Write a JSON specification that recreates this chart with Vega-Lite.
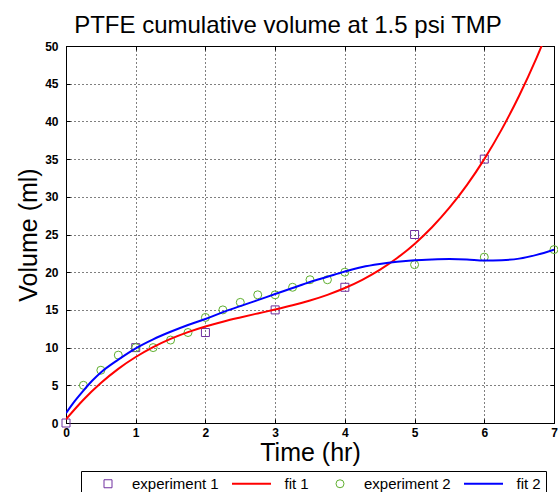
{
  "$schema": "https://vega.github.io/schema/vega-lite/v6.json",
  "width": 488,
  "height": 377,
  "autosize": {"type": "none"},
  "padding": {"left": 66, "top": 46, "right": 4, "bottom": 69},
  "background": "white",
  "config": {
    "view": {"stroke": "black", "strokeWidth": 1},
    "legend": {
      "orient": "none", "legendX": 15, "legendY": 425, "direction": "horizontal", "columns": 4,
      "strokeColor": "black", "fillColor": "white", "padding": 5,
      "labelFont": "Liberation Sans", "labelFontSize": 15, "labelColor": "black", "labelOffset": 3,
      "columnPadding": 8.5, "symbolStrokeWidth": 1.5, "symbolSize": 64
    }
  },
  "title": {
    "text": "PTFE cumulative volume at 1.5 psi TMP",
    "font": "Liberation Sans", "fontSize": 24, "fontWeight": "normal", "color": "black",
    "baseline": "alphabetic", "offset": 13, "dy": 30, "dx": -22, "anchor": "middle", "frame": "group"
  },
  "data": {
    "values": [
      {"kind": "exp", "series": "experiment 1", "t": 0, "v": 0},
      {"kind": "exp", "series": "experiment 1", "t": 1, "v": 10},
      {"kind": "exp", "series": "experiment 1", "t": 2, "v": 12},
      {"kind": "exp", "series": "experiment 1", "t": 3, "v": 15},
      {"kind": "exp", "series": "experiment 1", "t": 4, "v": 18},
      {"kind": "exp", "series": "experiment 1", "t": 5, "v": 25},
      {"kind": "exp", "series": "experiment 1", "t": 6, "v": 35},
      {"kind": "exp", "series": "experiment 2", "t": 0.25, "v": 5},
      {"kind": "exp", "series": "experiment 2", "t": 0.5, "v": 7},
      {"kind": "exp", "series": "experiment 2", "t": 0.75, "v": 9},
      {"kind": "exp", "series": "experiment 2", "t": 1, "v": 10},
      {"kind": "exp", "series": "experiment 2", "t": 1.25, "v": 10},
      {"kind": "exp", "series": "experiment 2", "t": 1.5, "v": 11},
      {"kind": "exp", "series": "experiment 2", "t": 1.75, "v": 12},
      {"kind": "exp", "series": "experiment 2", "t": 2, "v": 14},
      {"kind": "exp", "series": "experiment 2", "t": 2.25, "v": 15},
      {"kind": "exp", "series": "experiment 2", "t": 2.5, "v": 16},
      {"kind": "exp", "series": "experiment 2", "t": 2.75, "v": 17},
      {"kind": "exp", "series": "experiment 2", "t": 3, "v": 17},
      {"kind": "exp", "series": "experiment 2", "t": 3.25, "v": 18},
      {"kind": "exp", "series": "experiment 2", "t": 3.5, "v": 19},
      {"kind": "exp", "series": "experiment 2", "t": 3.75, "v": 19},
      {"kind": "exp", "series": "experiment 2", "t": 4, "v": 20},
      {"kind": "exp", "series": "experiment 2", "t": 5, "v": 21},
      {"kind": "exp", "series": "experiment 2", "t": 6, "v": 22},
      {"kind": "exp", "series": "experiment 2", "t": 7, "v": 23},
      {"kind": "fit", "series": "fit 1", "t": 0, "v": 0.5},
      {"kind": "fit", "series": "fit 1", "t": 0.25, "v": 3.09},
      {"kind": "fit", "series": "fit 1", "t": 0.5, "v": 5.3},
      {"kind": "fit", "series": "fit 1", "t": 0.75, "v": 7.18},
      {"kind": "fit", "series": "fit 1", "t": 1, "v": 8.75},
      {"kind": "fit", "series": "fit 1", "t": 1.25, "v": 10.06},
      {"kind": "fit", "series": "fit 1", "t": 1.5, "v": 11.15},
      {"kind": "fit", "series": "fit 1", "t": 1.75, "v": 12.05},
      {"kind": "fit", "series": "fit 1", "t": 2, "v": 12.8},
      {"kind": "fit", "series": "fit 1", "t": 2.25, "v": 13.44},
      {"kind": "fit", "series": "fit 1", "t": 2.5, "v": 14.0},
      {"kind": "fit", "series": "fit 1", "t": 2.75, "v": 14.53},
      {"kind": "fit", "series": "fit 1", "t": 3, "v": 15.05},
      {"kind": "fit", "series": "fit 1", "t": 3.25, "v": 15.61},
      {"kind": "fit", "series": "fit 1", "t": 3.5, "v": 16.25},
      {"kind": "fit", "series": "fit 1", "t": 3.75, "v": 17.0},
      {"kind": "fit", "series": "fit 1", "t": 4, "v": 17.9},
      {"kind": "fit", "series": "fit 1", "t": 4.25, "v": 18.99},
      {"kind": "fit", "series": "fit 1", "t": 4.5, "v": 20.3},
      {"kind": "fit", "series": "fit 1", "t": 4.75, "v": 21.88},
      {"kind": "fit", "series": "fit 1", "t": 5, "v": 23.75},
      {"kind": "fit", "series": "fit 1", "t": 5.25, "v": 25.96},
      {"kind": "fit", "series": "fit 1", "t": 5.5, "v": 28.55},
      {"kind": "fit", "series": "fit 1", "t": 5.75, "v": 31.55},
      {"kind": "fit", "series": "fit 1", "t": 6, "v": 35.0},
      {"kind": "fit", "series": "fit 1", "t": 6.25, "v": 38.94},
      {"kind": "fit", "series": "fit 1", "t": 6.5, "v": 43.4},
      {"kind": "fit", "series": "fit 1", "t": 6.75, "v": 48.43},
      {"kind": "fit", "series": "fit 1", "t": 7, "v": 54.05},
      {"kind": "fit", "series": "fit 2", "t": 0, "v": 1.3},
      {"kind": "fit", "series": "fit 2", "t": 0.125, "v": 2.9},
      {"kind": "fit", "series": "fit 2", "t": 0.25, "v": 4.3},
      {"kind": "fit", "series": "fit 2", "t": 0.375, "v": 5.6},
      {"kind": "fit", "series": "fit 2", "t": 0.5, "v": 6.7},
      {"kind": "fit", "series": "fit 2", "t": 0.75, "v": 8.4},
      {"kind": "fit", "series": "fit 2", "t": 1, "v": 9.9},
      {"kind": "fit", "series": "fit 2", "t": 1.25, "v": 11.1},
      {"kind": "fit", "series": "fit 2", "t": 1.5, "v": 12.1},
      {"kind": "fit", "series": "fit 2", "t": 1.75, "v": 13.0},
      {"kind": "fit", "series": "fit 2", "t": 2, "v": 13.8},
      {"kind": "fit", "series": "fit 2", "t": 2.25, "v": 14.7},
      {"kind": "fit", "series": "fit 2", "t": 2.5, "v": 15.5},
      {"kind": "fit", "series": "fit 2", "t": 2.75, "v": 16.3},
      {"kind": "fit", "series": "fit 2", "t": 3, "v": 17.1},
      {"kind": "fit", "series": "fit 2", "t": 3.25, "v": 17.9},
      {"kind": "fit", "series": "fit 2", "t": 3.5, "v": 18.7},
      {"kind": "fit", "series": "fit 2", "t": 3.75, "v": 19.4},
      {"kind": "fit", "series": "fit 2", "t": 4, "v": 20.1},
      {"kind": "fit", "series": "fit 2", "t": 4.25, "v": 20.7},
      {"kind": "fit", "series": "fit 2", "t": 4.5, "v": 21.1},
      {"kind": "fit", "series": "fit 2", "t": 4.75, "v": 21.4},
      {"kind": "fit", "series": "fit 2", "t": 5, "v": 21.6},
      {"kind": "fit", "series": "fit 2", "t": 5.25, "v": 21.7},
      {"kind": "fit", "series": "fit 2", "t": 5.5, "v": 21.75},
      {"kind": "fit", "series": "fit 2", "t": 5.75, "v": 21.7},
      {"kind": "fit", "series": "fit 2", "t": 6, "v": 21.55},
      {"kind": "fit", "series": "fit 2", "t": 6.25, "v": 21.6},
      {"kind": "fit", "series": "fit 2", "t": 6.5, "v": 21.8},
      {"kind": "fit", "series": "fit 2", "t": 6.75, "v": 22.3},
      {"kind": "fit", "series": "fit 2", "t": 7, "v": 23.0}
    ]
  },
  "layer": [
    {
      "transform": [{"filter": "datum.kind == 'exp'"}],
      "mark": {"type": "point", "filled": false, "strokeWidth": 1, "opacity": 1, "size": 64},
      "encoding": {
        "x": {"field": "t", "type": "quantitative", "scale": {"domain": [0, 7], "nice": false},
          "axis": {"orient": "top", "values": [0, 1, 2, 3, 4, 5, 6, 7], "labels": false, "grid": false, "title": null,
            "tickSize": -4, "tickColor": "black", "domainColor": "black"}},
        "y": {"field": "v", "type": "quantitative", "scale": {"domain": [0, 50], "nice": false},
          "axis": {"orient": "right", "values": [0, 5, 10, 15, 20, 25, 30, 35, 40, 45, 50], "labels": false, "grid": false, "title": null,
            "tickSize": -4, "tickColor": "black", "domainColor": "black"}},
        "color": {"field": "series", "type": "nominal",
          "scale": {"domain": ["experiment 1", "fit 1", "experiment 2", "fit 2"], "range": ["#7030A0", "#FF0000", "#5FAF2F", "#0000FF"]},
          "legend": {"title": null, "encode": {
            "symbols": {"update": {
              "x": {"value": 22},
              "size": {"signal": "indexof(['fit 1','fit 2'], datum.value) >= 0 ? 1521 : 64"},
              "strokeWidth": {"signal": "indexof(['fit 1','fit 2'], datum.value) >= 0 ? 2 : 1"}}},
            "labels": {"update": {
              "x": {"signal": "indexof(['fit 1','fit 2'], datum.value) >= 0 ? 55 : 46"}}}}}},
        "shape": {"field": "series", "type": "nominal",
          "scale": {"domain": ["experiment 1", "fit 1", "experiment 2", "fit 2"], "range": ["square", "stroke", "circle", "stroke"]},
          "legend": {"title": null, "encode": {
            "symbols": {"update": {
              "x": {"value": 22},
              "size": {"signal": "indexof(['fit 1','fit 2'], datum.value) >= 0 ? 1521 : 64"},
              "strokeWidth": {"signal": "indexof(['fit 1','fit 2'], datum.value) >= 0 ? 2 : 1"}}},
            "labels": {"update": {
              "x": {"signal": "indexof(['fit 1','fit 2'], datum.value) >= 0 ? 55 : 46"}}}}}}
      }
    },
    {
      "transform": [{"filter": "datum.kind == 'fit'"}],
      "mark": {"type": "line", "strokeWidth": 2, "clip": true, "interpolate": "monotone"},
      "encoding": {
        "x": {"field": "t", "type": "quantitative", "scale": {"domain": [0, 7], "nice": false},
          "axis": {"orient": "bottom", "values": [0, 1, 2, 3, 4, 5, 6, 7], "format": "d",
            "grid": true, "gridColor": "black", "gridDash": [1, 3], "gridOpacity": 1,
            "domainColor": "black", "tickColor": "black", "tickSize": -4, "labelFlush": false, "labelOverlap": false,
            "labelFont": "Liberation Sans", "labelFontSize": 12, "labelFontWeight": "bold", "labelColor": "black", "labelPadding": 8,
            "title": "Time (hr)", "titleFont": "Liberation Sans", "titleFontSize": 25, "titleFontWeight": "normal", "titleColor": "black",
            "titleBaseline": "alphabetic", "titleY": 37, "titleX": 244}},
        "y": {"field": "v", "type": "quantitative", "scale": {"domain": [0, 50], "nice": false},
          "axis": {"orient": "left", "values": [0, 5, 10, 15, 20, 25, 30, 35, 40, 45, 50], "format": "d",
            "grid": true, "gridColor": "black", "gridDash": [1, 3], "gridOpacity": 1,
            "domainColor": "black", "tickColor": "black", "tickSize": -4, "labelFlush": false, "labelOverlap": false,
            "labelFont": "Liberation Sans", "labelFontSize": 12, "labelFontWeight": "bold", "labelColor": "black", "labelPadding": 12,
            "title": "Volume (ml)", "titleFont": "Liberation Sans", "titleFontSize": 25, "titleFontWeight": "normal", "titleColor": "black",
            "titleBaseline": "alphabetic", "titleX": -30}},
        "color": {"field": "series", "type": "nominal",
          "scale": {"domain": ["experiment 1", "fit 1", "experiment 2", "fit 2"], "range": ["#7030A0", "#FF0000", "#5FAF2F", "#0000FF"]},
          "legend": {"title": null, "encode": {
            "symbols": {"update": {
              "x": {"value": 22},
              "size": {"signal": "indexof(['fit 1','fit 2'], datum.value) >= 0 ? 1521 : 64"},
              "strokeWidth": {"signal": "indexof(['fit 1','fit 2'], datum.value) >= 0 ? 2 : 1"}}},
            "labels": {"update": {
              "x": {"signal": "indexof(['fit 1','fit 2'], datum.value) >= 0 ? 55 : 46"}}}}}}
      }
    }
  ],
  "resolve": {"axis": {"x": "independent", "y": "independent"}}
}
